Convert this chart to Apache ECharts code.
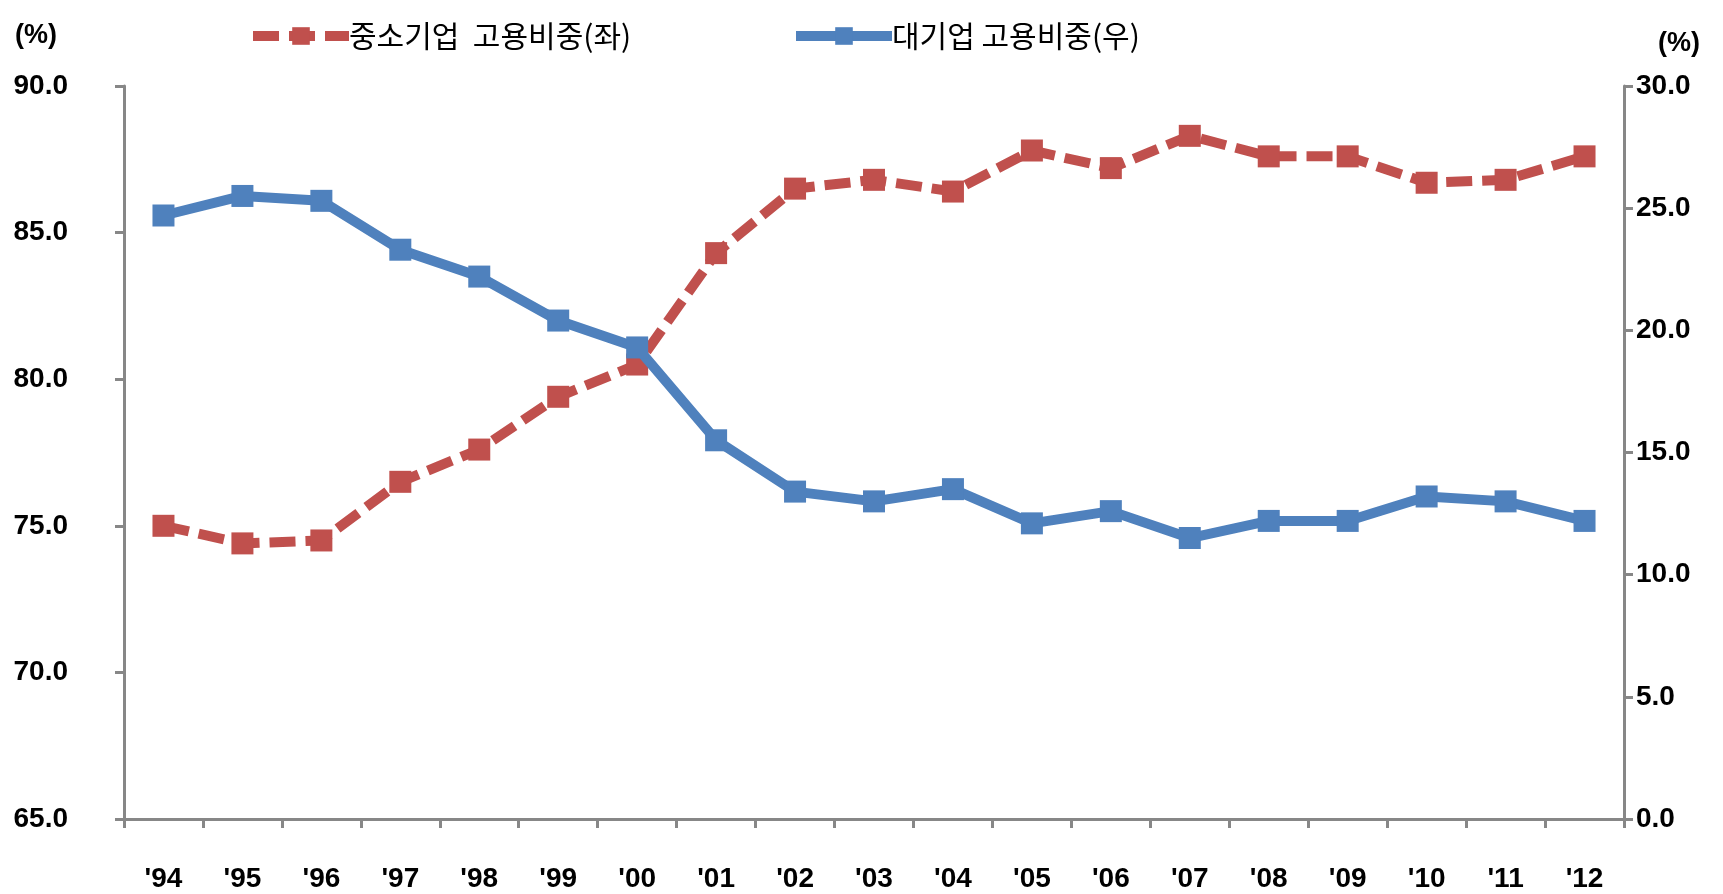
<!DOCTYPE html>
<html>
<head>
<meta charset="utf-8">
<script src="https://cdn.jsdelivr.net/npm/echarts@6/dist/echarts.min.js"></script>
<style>
  html, body { margin: 0; padding: 0; background: #fff; }
  #chart { width: 1723px; height: 894px; }
</style>
</head>
<body>
<div id="chart"></div>
<script>
// 연도 (category axis)
const years = ['\'94', '\'95', '\'96', '\'97', '\'98', '\'99', '\'00', '\'01', '\'02', '\'03',
  '\'04', '\'05', '\'06', '\'07', '\'08', '\'09', '\'10', '\'11', '\'12']

// 중소기업 고용비중 (left axis, %)
const smeShare = [75.0, 74.4, 74.5, 76.5, 77.6, 79.4, 80.5, 84.3, 86.5, 86.8,
  86.4, 87.8, 87.2, 88.3, 87.6, 87.6, 86.7, 86.8, 87.6]

// 대기업 고용비중 (right axis, %)
const largeShare = [24.7, 25.5, 25.3, 23.3, 22.2, 20.4, 19.3, 15.5, 13.4, 13.0,
  13.5, 12.1, 12.6, 11.5, 12.2, 12.2, 13.2, 13.0, 12.2]

const seriesNames = ['중소기업  고용비중(좌)', '대기업 고용비중(우)']

const RED = '#C0504D'
const BLUE = '#4F81BD'
const AXIS = '#878787'
const numFont = '"Liberation Sans Narrow", "Liberation Sans", Arial, sans-serif'
const korFont = '"Noto Sans CJK KR", "Noto Sans", sans-serif'

const axisLabelStyle = {
  color: '#000',
  fontFamily: numFont,
  fontWeight: 'bold',
  fontSize: 28,
}

// one legend per series, each placed where the original has it
function legendAt(left, name) {
  return {
    top: 16,
    left: left,
    itemWidth: 96,
    itemHeight: 22,
    lineStyle: { width: 10 },
    textStyle: { fontFamily: korFont, fontSize: 30, color: '#000', padding: [0, 0, 14, -5] },
    data: [name],
  }
}

const chart = echarts.init(document.getElementById('chart'))
chart.setOption({
  animation: false,
  grid: { left: 124, right: 99, top: 86, bottom: 75 },
  legend: [legendAt(243, seriesNames[0]), legendAt(786, seriesNames[1])],
  graphic: [
    { type: 'text', left: 15, top: 22, style: { text: '(%)', font: 'bold 27px ' + numFont, fill: '#000' } },
    { type: 'text', left: 1658, top: 30, style: { text: '(%)', font: 'bold 27px ' + numFont, fill: '#000' } },
  ],
  xAxis: {
    type: 'category',
    data: years,
    boundaryGap: true,
    axisLine: { lineStyle: { color: AXIS, width: 3 } },
    axisTick: { show: true, interval: 0, length: 9, lineStyle: { color: AXIS, width: 3 } },
    axisLabel: Object.assign({ margin: 46, interval: 0 }, axisLabelStyle),
    splitLine: { show: false },
  },
  yAxis: [{
    type: 'value',
    min: 65,
    max: 90,
    interval: 5,
    position: 'left',
    axisLine: { show: true, lineStyle: { color: AXIS, width: 3 } },
    axisTick: { show: true, length: 9, lineStyle: { color: AXIS, width: 3 } },
    axisLabel: Object.assign({ margin: 56, formatter: v => v.toFixed(1) }, axisLabelStyle),
    splitLine: { show: false },
  }, {
    type: 'value',
    min: 0,
    max: 30,
    interval: 5,
    position: 'right',
    axisLine: { show: true, lineStyle: { color: AXIS, width: 3 } },
    axisTick: { show: true, length: 9, lineStyle: { color: AXIS, width: 3 } },
    axisLabel: Object.assign({ margin: 12, formatter: v => v.toFixed(1) }, axisLabelStyle),
    splitLine: { show: false },
  }],
  series: [{
    name: seriesNames[0],
    type: 'line',
    yAxisIndex: 0,
    data: smeShare,
    symbol: 'rect',
    symbolSize: 22,
    color: RED,
    itemStyle: { color: RED },
    lineStyle: { color: RED, width: 10, type: [26, 10] },
    z: 2,
  }, {
    name: seriesNames[1],
    type: 'line',
    yAxisIndex: 1,
    data: largeShare,
    symbol: 'rect',
    symbolSize: 22,
    color: BLUE,
    itemStyle: { color: BLUE },
    lineStyle: { color: BLUE, width: 10 },
    z: 3,
  }],
})
</script>
</body>
</html>
